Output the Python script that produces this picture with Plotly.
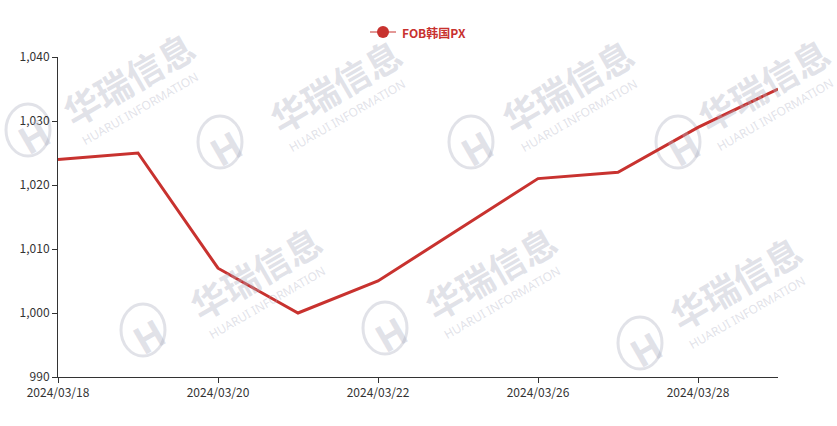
import plotly.graph_objects as go

dates = ["2024/03/18", "2024/03/19", "2024/03/20", "2024/03/21", "2024/03/22",
         "2024/03/25", "2024/03/26", "2024/03/27", "2024/03/28", "2024/03/29"]
values = [1024, 1025, 1007, 1000, 1005, 1013, 1021, 1022, 1029, 1035]
series_name = "FOB韩国PX"
x_tick_labels = dates[::2]
y_ticks = [990, 1000, 1010, 1020, 1030, 1040]

W, H = 837, 426
L, R, T, B = 58, 59, 57, 49
PW, PH = W - L - R, H - T - B
RED = "#c8322f"
WM = "rgba(175,178,195,0.38)"


def px(x):
    return (x - L) / PW


def py(y):
    return (H - B - y) / PH


fig = go.Figure()
fig.add_trace(go.Scatter(
    x=dates, y=values, name=series_name, mode="lines",
    line=dict(color=RED, width=3), showlegend=False,
))

# watermarks: (logo center, text center) in pixel coords
units = [((30, 130), (128, 78)), ((222, 142), (335, 85)), ((473, 142), (567, 85)),
         ((680, 142), (763, 84)), ((145, 330), (255, 272)), ((387, 328), (490, 272)),
         ((642, 343), (735, 282))]
ann = []
shapes = []
for (lx, ly), (tx, ty) in units:
    ann.append(dict(x=px(tx), y=py(ty), xref="paper", yref="paper", text="<b>华瑞信息</b>",
                    xanchor="center", yanchor="middle",
                    showarrow=False, textangle=-30, font=dict(size=36, color=WM, family="Noto Sans CJK SC")))
    ann.append(dict(x=px(tx + 12), y=py(ty + 30), xref="paper", yref="paper",
                    xanchor="center", yanchor="middle",
                    text="HUARUI INFORMATION", showarrow=False, textangle=-30,
                    font=dict(size=12, color=WM, family="Noto Sans")))
    ann.append(dict(x=px(lx + 3), y=py(ly + 6), xref="paper", yref="paper", text="<b>H</b>",
                    xanchor="center", yanchor="middle",
                    showarrow=False, textangle=-30, font=dict(size=38, color=WM, family="Noto Sans")))
    shapes.append(dict(type="circle", xref="paper", yref="paper", layer="below",
                       x0=px(lx - 24), x1=px(lx + 20), y0=py(ly + 26), y1=py(ly - 26),
                       line=dict(color=WM, width=3)))

# manual legend (line + circle + text)
shapes.append(dict(type="line", xref="paper", yref="paper", x0=px(370), x1=px(396),
                   y0=py(32), y1=py(32), line=dict(color=RED, width=1)))
shapes.append(dict(type="circle", xref="paper", yref="paper", fillcolor=RED, line=dict(color=RED, width=0),
                   x0=px(377), x1=px(389), y0=py(38), y1=py(26)))
ann.append(dict(x=px(400), y=py(32), xref="paper", yref="paper", xanchor="left", yanchor="middle",
                text="<b>" + series_name + "</b>", showarrow=False,
                font=dict(size=12, color=RED, family="Noto Sans CJK SC")))

fig.update_layout(
    width=W, height=H,
    margin=dict(l=L, r=R, t=T, b=B, autoexpand=False),
    paper_bgcolor="white", plot_bgcolor="white",
    font=dict(family="Noto Sans CJK SC, sans-serif", size=12, color="#333"),
    showlegend=False,
    annotations=ann,
    shapes=shapes,
    xaxis=dict(type="category", tickvals=x_tick_labels, ticktext=x_tick_labels,
               range=[0, len(dates) - 1], showgrid=False, showline=True, linecolor="#333",
               linewidth=1, ticks="outside", ticklen=5, tickcolor="#333", automargin=False,
               tickfont=dict(size=12, color="#333"), zeroline=False),
    yaxis=dict(range=[990, 1040], tickvals=y_ticks, tickformat=",", showgrid=False,
               showline=True, linecolor="#333", linewidth=1, ticks="outside", ticklen=5,
               tickcolor="#333", automargin=False,
               tickfont=dict(size=12, color="#333"), zeroline=False),
)
fig.write_html("out.html", config={"displayModeBar": False},
               post_script="document.body.style.margin='0';")
